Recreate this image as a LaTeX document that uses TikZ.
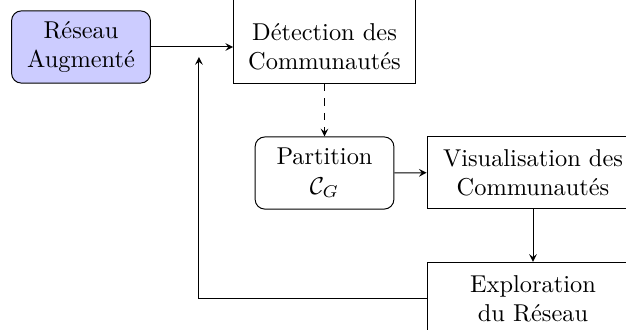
\documentclass[tikz,border=0pt]{standalone}
\usepackage{amsmath}
\usepackage{amssymb}
\usepackage{tikz}
\usetikzlibrary{calc}

\tikzset{
    etape/.style={draw,align=center,minimum height=1.04cm,inner xsep=6pt},
    etaperonde/.style={etape,rounded corners=4pt,minimum width=2cm},
}

\begin{document}
\begin{tikzpicture}[>=stealth]
            % frame of the picture
            \useasboundingbox (0,0) rectangle (9.02,-4.741);
            \clip (0,0) rectangle (9.02,-4.741);
            % the steps
            \node[etaperonde,fill=blue!20] (reseau) at (1.167,-0.677) {R\'eseau\\Augment\'e};
            \node[etape,draw=none,minimum width=2.55cm] (detect) at (4.676,-0.677) {D\'etection des\\Communaut\'es};
            \draw ([yshift=1cm]detect.north west) -- (detect.south west)
                -- (detect.south east) -- ([yshift=1cm]detect.north east);
            \node[etaperonde] (partition) at (4.676,-2.493) {Partition\\$\mathcal{C}_G$};
            \node[etape,minimum width=3.05cm] (visu) at (7.680,-2.486) {Visualisation des\\Communaut\'es};
            \node[etape,minimum width=3.05cm] (explo) at (7.680,-4.301) {Exploration\\du R\'eseau};
            % the links
            \draw[->] (reseau) -- (detect);
            \draw[->,dashed] (detect.south) -- (partition);
            \draw[->] (partition) -- (visu);
            \draw[->] (visu) -- (explo);
            \coordinate (retour) at (2.867,-0.821);
            \draw[->] (explo.west) -| (retour);
        \end{tikzpicture}
\end{document}
